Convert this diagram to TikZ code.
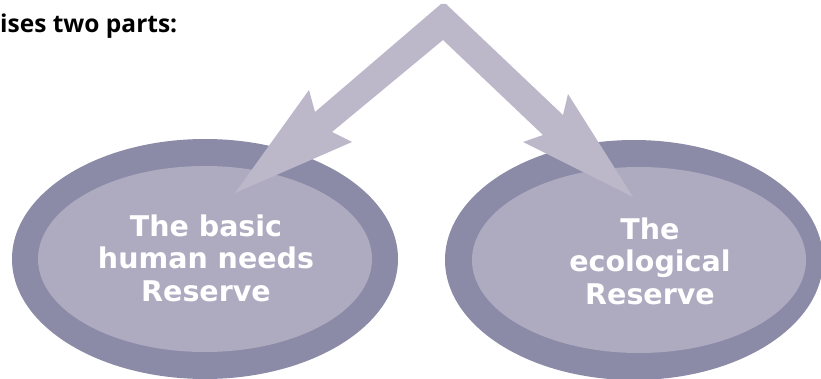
\documentclass[tikz,border=0pt]{standalone}
\usepackage{fontspec}
\setmainfont{DejaVu Sans}
\newfontfamily\titlefont{Open Sans}
\definecolor{ringc}{HTML}{8B8BA8}
\definecolor{innerc}{HTML}{AEABC1}
\definecolor{arrowc}{HTML}{BCB8CA}
\begin{document}
\begin{tikzpicture}[x=1pt,y=-1pt,
  ring/.style={fill=ringc,draw=none},
  core/.style={fill=innerc,draw=none},
  lbl/.style={text=white,font=\bfseries\fontsize{28.5}{32.5}\selectfont,align=center,inner sep=0pt},
  title/.style={text=black,font=\titlefont\bfseries\fontsize{24.5}{28}\selectfont,inner sep=0pt}]
\useasboundingbox (0,0) rectangle (821,379);
\clip (0,0) rectangle (821,379);
% left ellipse
\fill[ring] (205,259) ellipse [x radius=193,y radius=120];
\fill[core] (205,259) ellipse [x radius=167,y radius=93];
% right ellipse
\fill[ring] (634,260) ellipse [x radius=189,y radius=120];
\fill[core] (639,260) ellipse [x radius=167,y radius=93];
% double arrow
\fill[arrowc] (235,193) -- (352,142) -- (332,132) -- (443,40) -- (543,135) -- (523,142)
  -- (633,197) -- (568,94) -- (563,115) -- (446,4) -- (441,4) -- (315,112) -- (309,90) -- cycle;
% texts
\node[title,anchor=base west] (t) at (0,33) {ises two parts:};
\node[lbl] (a) at (206,258) {The basic\\human needs\\Reserve};
\node[lbl] (b) at (650,261) {The\\ecological\\Reserve};
\end{tikzpicture}
\end{document}
